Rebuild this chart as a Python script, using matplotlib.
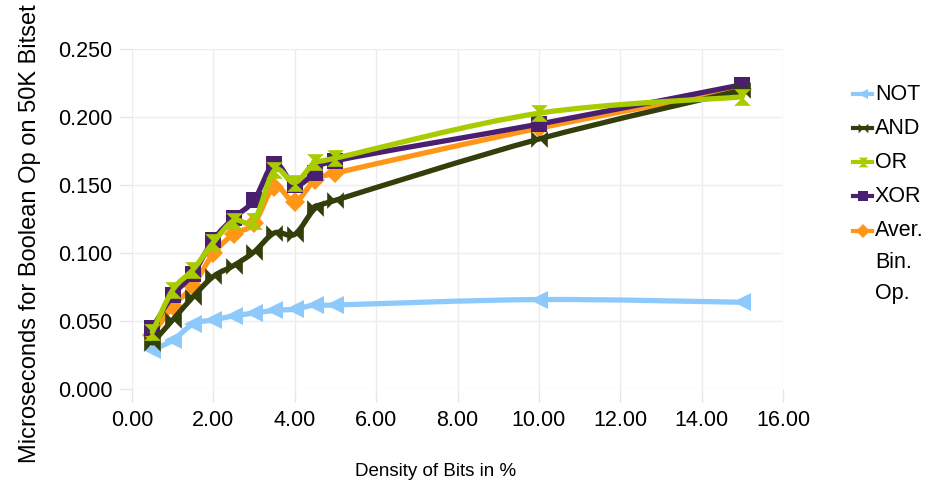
import matplotlib
matplotlib.use("Agg")
import matplotlib.pyplot as plt
import numpy as np
from matplotlib.path import Path
from matplotlib.patches import PathPatch
from matplotlib.lines import Line2D

plt.rcParams['font.family'] = ['Liberation Sans', 'DejaVu Sans']

density = [0.5, 1.0, 1.5, 2.0, 2.5, 3.0, 3.5, 4.0, 4.5, 5.0, 10.0, 15.0]
not_vals = [0.029, 0.036, 0.048, 0.051, 0.054, 0.056, 0.058, 0.059, 0.062, 0.062, 0.066, 0.064]
and_vals = [0.034, 0.051, 0.068, 0.083, 0.091, 0.101, 0.115, 0.114, 0.133, 0.139, 0.184, 0.220]
or_vals = [0.042, 0.073, 0.088, 0.108, 0.124, 0.124, 0.161, 0.152, 0.167, 0.170, 0.203, 0.215]
xor_vals = [0.045, 0.069, 0.085, 0.110, 0.126, 0.139, 0.166, 0.150, 0.159, 0.168, 0.195, 0.224]
avg_vals = [0.040, 0.061, 0.076, 0.100, 0.114, 0.122, 0.149, 0.138, 0.154, 0.159, 0.192, 0.221]

labels = ['NOT', 'AND', 'OR', 'XOR', 'Aver.\nBin.\nOp.']
colors = ['#8DCAFB', '#333F0B', '#A8CC00', '#4B1F70', '#FF9618']

hour_v = Path([(-1, 1), (1, 1), (-1, -1), (1, -1), (-1, 1)],
              [Path.MOVETO, Path.LINETO, Path.LINETO, Path.LINETO, Path.CLOSEPOLY])
hour_h = Path([(-1, 1), (-1, -1), (1, 1), (1, -1), (-1, 1)],
              [Path.MOVETO, Path.LINETO, Path.LINETO, Path.LINETO, Path.CLOSEPOLY])
markers = ['<', hour_h, hour_v, 's', 'D']
msizes = [13, 12, 12, 11, 10]
series = [not_vals, and_vals, or_vals, xor_vals, avg_vals]
zorders = [3, 6, 7, 5, 4]


def smooth_path(x, y):
    pts = np.column_stack([x, y]).astype(float)
    n = len(pts)
    verts = [pts[0]]
    codes = [Path.MOVETO]
    for i in range(n - 1):
        p0 = pts[i - 1] if i > 0 else pts[i]
        p1 = pts[i]
        p2 = pts[i + 1]
        p3 = pts[i + 2] if i + 2 < n else pts[i + 1]
        c1 = p1 + (p2 - p0) / 6.0
        c2 = p2 - (p3 - p1) / 6.0
        verts += [c1, c2, p2]
        codes += [Path.CURVE4] * 3
    return Path(verts, codes)


W, H = 946, 488
fig = plt.figure(figsize=(W / 100, H / 100), dpi=100)
ax = fig.add_axes([132 / W, 1 - 389.3 / H, (783 - 132) / W, (389.3 - 49.3) / H])

for vals, c, m, ms, z in zip(series, colors, markers, msizes, zorders):
    ax.add_patch(PathPatch(smooth_path(density, vals), fill=False, edgecolor=c,
                           linewidth=3.8, capstyle='round', joinstyle='round', zorder=z))
    ax.plot(density, vals, linestyle='none', marker=m, markersize=ms, color=c,
            markeredgewidth=0, zorder=z)

ax.set_xlim(0, 16)
ax.set_ylim(0, 0.25)
ax.set_xticks(np.arange(0, 16.1, 2))
ax.set_yticks(np.arange(0, 0.251, 0.05))
ax.set_xticklabels([f"{v:.2f}" for v in np.arange(0, 16.1, 2)])
ax.set_yticklabels([f"{v:.3f}" for v in np.arange(0, 0.251, 0.05)])
ax.grid(True, color='#EDEDED', linewidth=1)
ax.set_axisbelow(True)
for s in ax.spines.values():
    s.set_visible(False)
ax.tick_params(axis='both', colors='#E6E6E6', labelcolor='black', labelsize=15.5,
               length=9, width=1)
ax.tick_params(axis='x', pad=6)
ax.tick_params(axis='y', pad=5)

fig.text(436 / W, 1 - 472 / H, 'Density of Bits in %', fontsize=13.5,
         ha='center', va='center')
fig.text(30 / W, 1 - 234 / H, 'Microseconds for Boolean Op on 50K Bitset', fontsize=17,
         ha='center', va='center', rotation=90)

# legend drawn in figure pixel coordinates
legend_rows = [94, 128, 162, 196, 231]
line_step = 31.5
for lab, c, m, yrow in zip(labels, colors, markers, legend_rows):
    yf = 1 - yrow / H
    fig.add_artist(Line2D([853 / W, 872 / W], [yf, yf], transform=fig.transFigure,
                          color=c, lw=3))
    fig.add_artist(Line2D([862.5 / W], [yf], transform=fig.transFigure, color=c,
                          marker=m, markersize=7, markeredgewidth=0, linestyle='none'))
    for k, part in enumerate(lab.split('\n')):
        fig.text(875 / W, 1 - (yrow + k * line_step) / H, part, fontsize=15.5,
                 va='center', ha='left')

fig.savefig('out.png', dpi=100)
